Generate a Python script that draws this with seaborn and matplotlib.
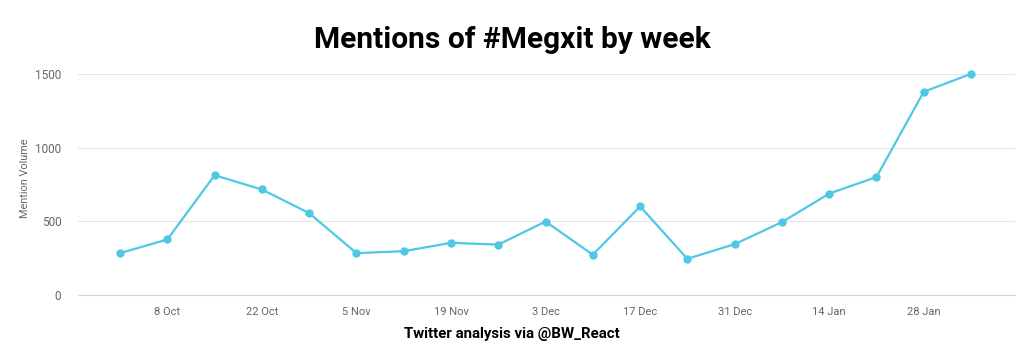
import matplotlib
matplotlib.use("Agg")
import matplotlib.pyplot as plt
import seaborn as sns
import pandas as pd
import numpy as np

weeks = pd.date_range("2019-10-01", periods=19, freq="7D")
mentions = [283, 376, 813, 716, 555, 283, 296, 353, 341, 498, 272, 601, 244, 344, 494, 688, 801, 1381, 1503]
tick_dates = pd.to_datetime(["2019-10-08", "2019-10-22", "2019-11-05", "2019-11-19", "2019-12-03",
                             "2019-12-17", "2019-12-31", "2020-01-14", "2020-01-28"])
tick_labels = ["8 Oct", "22 Oct", "5 Nov", "19 Nov", "3 Dec", "17 Dec", "31 Dec", "14 Jan", "28 Jan"]
y_ticks = [0, 500, 1000, 1500]

df = pd.DataFrame({"week": weeks, "mentions": mentions})

sns.set_theme(style="white")
plt.rcParams["font.family"] = ["Roboto", "DejaVu Sans"]

fig = plt.figure(figsize=(10.24, 3.59), dpi=100)
ax = fig.add_axes([78 / 1024, 1 - 294.7 / 359, (1015 - 78) / 1024, (294.7 - 74.3) / 359])

line_color = "#4ec8e4"
sns.lineplot(data=df, x="week", y="mentions", ax=ax, color=line_color, linewidth=1.6,
             marker="o", markersize=6, markeredgewidth=0, clip_on=False)

ax.set_ylim(0, 1500)
step = pd.Timedelta(days=7)
ax.set_xlim(weeks[0] - 0.89 * step, weeks[-1] + 0.93 * step)
ax.set_yticks(y_ticks)
ax.set_yticklabels([str(v) for v in y_ticks])
ax.set_xticks(tick_dates)
ax.set_xticklabels(tick_labels)
ax.tick_params(axis="x", length=0, labelsize=8, colors="#666666", pad=9)
ax.tick_params(axis="y", length=0, labelsize=8.5, colors="#666666", pad=12)

ax.grid(axis="y", color="#e6e6e6", linewidth=0.8)
ax.grid(axis="x", visible=False)
for s in ["top", "right", "left"]:
    ax.spines[s].set_visible(False)
ax.spines["bottom"].set_color("#ccd6eb")
ax.spines["bottom"].set_linewidth(0.8)
ax.set_axisbelow(True)

ax.set_xlabel("")
ax.set_ylabel("Mention Volume", fontsize=7.8, color="#666666", va="center")
ax.yaxis.set_label_coords((25 - 78) / 937, (294.7 - 178) / 220.4)

fig.text(0.5, 1 - 40 / 359, "Mentions of #Megxit by week", ha="center", va="center",
         fontsize=21.5, fontweight="bold", color="#000000")
fig.text(0.5, 1 - 334 / 359, "Twitter analysis via @BW_React", ha="center", va="center",
         fontsize=10.8, fontweight="bold", color="#000000")

fig.savefig("out.png", dpi=100, facecolor="white")
